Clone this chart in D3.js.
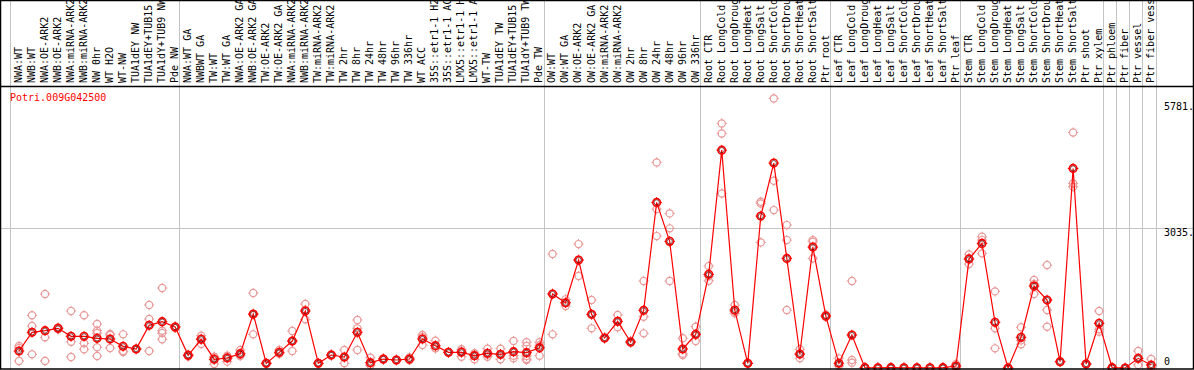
<!DOCTYPE html>
<html>
<head>
<meta charset="utf-8">
<script src="https://cdn.jsdelivr.net/npm/d3@7"></script>
<style>
  body { margin: 0; background: #fff; }
  svg { display: block; }
  text { font-family: "DejaVu Sans Mono", "Liberation Mono", monospace; font-size: 10px; }
</style>
</head>
<body>
<script>
var geneName = "Potri.009G042500";

var labels = ["NWA:WT", "NWB:WT", "NWA:OE-ARK2", "NWB:OE-ARK2", "NWA:miRNA-ARK2", "NWB:miRNA-ARK2",
  "NW 0hr", "WT H2O", "WT-NW", "TUA1dEY NW", "TUA1dEY+TUB15 NW", "TUA1dY+TUB9 NW", "Pde NW",
  "NWA:WT GA", "NWBWT GA", "TW:WT", "TW:WT GA", "NWA:OE-ARK2 GA", "NWB:OE-ARK2 GA", "TW:OE-ARK2",
  "TW:OE-ARK2 GA", "NWA:miRNA-ARK2", "NWB:miRNA-ARK2", "TW:miRNA-ARK2", "TW:miRNA-ARK2", "TW 2hr",
  "TW 8hr", "TW 24hr", "TW 48hr", "TW 96hr", "TW 336hr", "WT ACC", "35S::etr1-1 H2O", "35S::etr1-1 ACC",
  "LMX5::etr1-1 H2O", "LMX5::etr1-1 ACC", "WT-TW", "TUA1dEY TW", "TUA1dEY+TUB15 TW", "TUA1dY+TUB9 TW",
  "Pde TW", "OW:WT", "OW:WT GA", "OW:OE-ARK2", "OW:OE-ARK2 GA", "OW:miRNA-ARK2", "OW:miRNA-ARK2",
  "OW 2hr", "OW 8hr", "OW 24hr", "OW 48hr", "OW 96hr", "OW 336hr",
  "Root CTR", "Root LongCold", "Root LongDrought", "Root LongHeat", "Root LongSalt", "Root ShortCold",
  "Root ShortDrought", "Root ShortHeat", "Root ShortSalt", "Ptr root",
  "Leaf CTR", "Leaf LongCold", "Leaf LongDrought", "Leaf LongHeat", "Leaf LongSalt", "Leaf ShortCold",
  "Leaf ShortDrought", "Leaf ShortHeat", "Leaf ShortSalt", "Ptr leaf",
  "Stem CTR", "Stem LongCold", "Stem LongDrought", "Stem LongHeat", "Stem LongSalt", "Stem ShortCold",
  "Stem ShortDrought", "Stem ShortHeat", "Stem ShortSalt", "Ptr shoot", "Ptr xylem",
  "Ptr phloem", "Ptr fiber", "Ptr vessel", "Ptr fiber vessel"];

// index of the first sample in each group
var groupStarts = [0, 13, 41, 53, 63, 73, 84, 85, 86, 87];

var means = [369, 775, 811, 862, 688, 688, 645, 630, 471, 413, 927, 1006, 890,
  275, 623, 188, 217, 311, 1173, 101, 340, 586, 1238, 101, 282, 239, 775, 116, 195, 174, 195,
  630, 485, 340, 340, 268, 319, 297, 355, 333, 441,
  1607, 1418, 2346, 1166, 652, 1014, 565, 1253, 3599, 2752, 413, 731,
  2035, 4735, 1260, 101, 3301, 4453, 2382, 304, 2628, 1129,
  101, 717, 7, 5, 7, 5, 5, 3, 8, 43,
  2367, 2708, 992, 0, 666, 1781, 1477, 138, 4337, 87, 970,
  7, 0, 210, 65];

var replicates = [
  [478, 152, 434], [1145, 912, 297], [1607, 666, 152], [840, 880, 865], [1238, 572, 239],
  [1145, 536, 406], [955, 811, 449, 261, 760], [717, 434, 740], [731, 347, 369], [410, 415, 414],
  [1368, 1064, 369], [1738, 811, 623, 760], [870, 905, 895],
  [290, 250, 285], [702, 521, 640], [246, 87, 230], [268, 138, 245], [391, 261, 281],
  [1629, 731, 1160], [90, 110, 103], [391, 310, 320], [804, 369, 586], [1390, 1057, 1265],
  [90, 110, 105], [270, 295, 282], [391, 101, 225], [1043, 862, 391], [224, 60, 65],
  [205, 180, 200], [165, 180, 177], [230, 170, 185], [717, 500, 673], [594, 427, 434],
  [330, 350, 340], [406, 246, 368], [319, 188, 297], [420, 246, 290], [420, 188, 283],
  [586, 210, 268], [558, 478, 261, 174, 195], [558, 268, 497],
  [2476, 731, 1614], [1492, 1347, 1415], [2693, 1998, 2347], [1477, 862, 1160], [660, 640, 655],
  [1151, 884, 1007], [550, 580, 565], [1890, 1114, 753], [4468, 3453, 2867], [3360, 3035, 1890],
  [645, 282, 312], [897, 586, 710],
  [2215, 1896, 1994], [5315, 5098, 3794], [1368, 1188, 1224], [95, 105, 103], [3612, 3577, 2730],
  [5858, 4068, 3432], [3106, 2780, 1260], [406, 210, 296], [2780, 2744, 2382], [1160, 1110, 1117],
  [210, 50, 43], [1890, 174, 116], [10, 5, 7], [5, 3, 7], [8, 5, 7], [5, 4, 6], [5, 6, 4],
  [3, 2, 4], [8, 9, 7], [87, 20, 22],
  [2469, 2259, 2390], [2852, 2780, 2491], [1665, 862, 427], [0, 0, 0], [884, 600, 515],
  [1911, 1607, 1825], [2237, 1260, 897], [130, 145, 140], [5119, 4011, 3938], [80, 95, 87],
  [1238, 840, 789],
  [7, 6, 8], [0, 0, 0], [369, 65, 196], [195, 0, 0]];

var yTicks = [0, 3035, 5781];

var width = 1194, height = 370;
var headerBottom = 86;

var svg = d3.select("body").append("svg")
  .attr("width", width)
  .attr("height", height);

var x = d3.scaleBand()
  .domain(d3.range(labels.length))
  .range([10.3, 1155.5]);

var y = d3.scaleLinear()
  .domain([0, 5781])
  .range([368, 102]);

function cx(i) { return x(i) + 8.7; }

// grid
svg.append("g")
  .selectAll("line")
  .data(groupStarts.concat([labels.length]))
  .enter().append("line")
  .attr("x1", function (d) { return Math.round(d < labels.length ? x(d) : x(d - 1) + x.bandwidth()) + 0.5; })
  .attr("x2", function (d) { return Math.round(d < labels.length ? x(d) : x(d - 1) + x.bandwidth()) + 0.5; })
  .attr("y1", 0)
  .attr("y2", height)
  .attr("stroke", "#c4c4c4")
  .attr("stroke-width", 1);

svg.append("line")
  .attr("x1", 0).attr("x2", width)
  .attr("y1", Math.round(y(3035)) + 0.5).attr("y2", Math.round(y(3035)) + 0.5)
  .attr("stroke", "#c4c4c4");

// sample labels
svg.append("g")
  .selectAll("text")
  .data(labels)
  .enter().append("text")
  .attr("transform", function (d, i) { return "translate(" + (x(i) + 11.6) + ",83) rotate(-90)"; })
  .attr("fill", "#000")
  .text(function (d) { return d; });

// y labels on the right
svg.append("g")
  .selectAll("text")
  .data(yTicks)
  .enter().append("text")
  .attr("x", 1164)
  .attr("y", function (d) { return d === 0 ? 365 : y(d) + 8; })
  .attr("fill", "#000")
  .text(function (d) { return d === 0 ? "0" : d + "."; });

svg.append("text")
  .attr("x", 10)
  .attr("y", 101)
  .attr("fill", "#ff0000")
  .text(geneName);

function marker(g, r, color, sw) {
  g.append("circle")
    .attr("r", r)
    .attr("fill", "none")
    .attr("stroke", color)
    .attr("stroke-width", sw);
  g.selectAll("line.tick")
    .data([[0, -1], [0, 1], [-1, 0], [1, 0]])
    .enter().append("line")
    .attr("x1", function (d) { return d[0] * (r - 0.5); })
    .attr("y1", function (d) { return d[1] * (r - 0.5); })
    .attr("x2", function (d) { return d[0] * (r + 1.5); })
    .attr("y2", function (d) { return d[1] * (r + 1.5); })
    .attr("stroke", color)
    .attr("stroke-width", 1);
}

// replicate points
var reps = [];
replicates.forEach(function (arr, i) {
  arr.forEach(function (v) { reps.push({ i: i, v: v }); });
});

svg.append("g")
  .selectAll("g")
  .data(reps)
  .enter().append("g")
  .attr("transform", function (d) { return "translate(" + cx(d.i) + "," + y(d.v) + ")"; })
  .each(function () { marker(d3.select(this), 3.6, "#e99a9a", 1.2); });

// mean line
var line = d3.line()
  .x(function (d, i) { return cx(i); })
  .y(function (d) { return y(d); });

svg.append("path")
  .datum(means)
  .attr("d", line)
  .attr("fill", "none")
  .attr("stroke", "#ff0000")
  .attr("stroke-width", 1.2);

var meanG = svg.append("g")
  .selectAll("g")
  .data(means)
  .enter().append("g")
  .attr("transform", function (d, i) { return "translate(" + cx(i) + "," + y(d) + ")"; });

meanG.each(function () { marker(d3.select(this), 3.8, "#ff0000", 1.6); });
meanG.append("circle")
  .attr("r", 2.6)
  .attr("fill", "none")
  .attr("stroke", "#500000")
  .attr("stroke-width", 0.7);

// frame
svg.append("line")
  .attr("x1", 0).attr("x2", width)
  .attr("y1", headerBottom + 0.5).attr("y2", headerBottom + 0.5)
  .attr("stroke", "#000").attr("stroke-width", 1.5);

svg.append("rect")
  .attr("x", 0.5).attr("y", 0.5)
  .attr("width", width - 1).attr("height", height - 1.5)
  .attr("fill", "none")
  .attr("stroke", "#000")
  .attr("stroke-width", 1.5);
</script>
</body>
</html>
